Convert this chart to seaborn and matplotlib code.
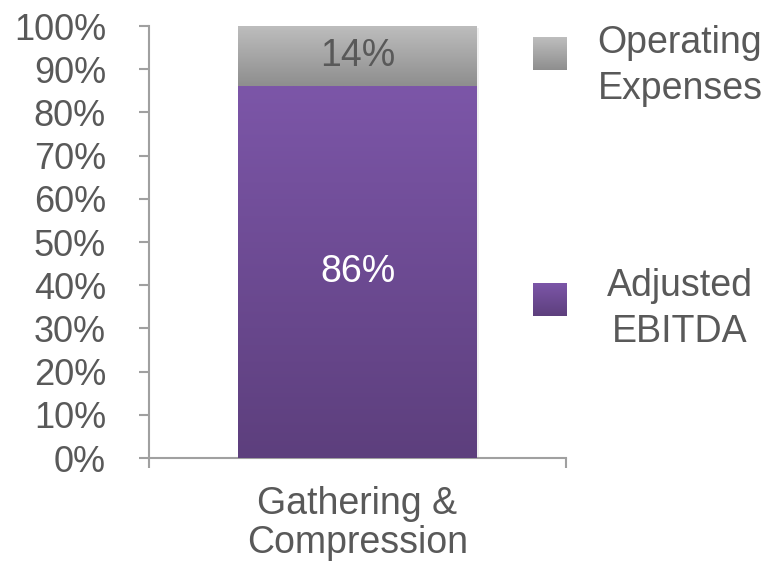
import numpy as np
import pandas as pd
import matplotlib
matplotlib.use("Agg")
import matplotlib.pyplot as plt
import seaborn as sns
from matplotlib.colors import LinearSegmentedColormap
from matplotlib.ticker import PercentFormatter

# Segment data (percent of total)
categories = ["Gathering &\nCompression"]
adjusted_ebitda = [86]
operating_expenses = [14]
series_names = ["Operating\nExpenses", "Adjusted\nEBITDA"]
y_ticks = list(range(0, 101, 10))

sns.set_theme(style="white")
plt.rcParams["font.family"] = ["Liberation Sans", "DejaVu Sans"]

TEXT = "#595959"
SPINE = "#A0A0A0"
purple_cmap = LinearSegmentedColormap.from_list("purple", ["#5D3F7D", "#7C56A8"])
gray_cmap = LinearSegmentedColormap.from_list("gray", ["#8E8E8E", "#BEBEBE"])

df = pd.DataFrame({
    "category": categories,
    "ebitda": adjusted_ebitda,
    "total": [a + b for a, b in zip(adjusted_ebitda, operating_expenses)],
})

fig = plt.figure(figsize=(7.67, 5.63), dpi=100)
ax = fig.add_axes([149 / 767, 105 / 563, 417 / 767, 432 / 563])

# Stacked bar: full total first (top segment), then the lower segment over it
sns.barplot(data=df, x="category", y="total", color="#A6A6A6", width=0.573,
            ax=ax, zorder=2, linewidth=0)
sns.barplot(data=df, x="category", y="ebitda", color="#6B4A93", width=0.573,
            ax=ax, zorder=3, linewidth=0)

patches = list(ax.patches)
grad = np.linspace(0, 1, 256).reshape(-1, 1)
n = len(categories)
for i, p in enumerate(patches):
    x0, y0, w, h = p.get_x(), p.get_y(), p.get_width(), p.get_height()
    cmap = gray_cmap if i < n else purple_cmap
    if i < n:
        # top segment only spans from the lower segment to the total
        y0 = adjusted_ebitda[i]
        h = h - adjusted_ebitda[i]
    p.set_facecolor("none")
    # soft shadow
    ax.add_patch(plt.Rectangle((x0 + 0.006, y0 - 0.5), w, h, facecolor="#000000",
                               alpha=0.06, zorder=1, linewidth=0))
    ax.imshow(grad, cmap=cmap, origin="lower", aspect="auto",
              extent=(x0, x0 + w, y0, y0 + h), zorder=p.get_zorder() + 0.5)

# Value labels in each segment
for i in range(n):
    ax.text(i, adjusted_ebitda[i] + operating_expenses[i] / 2, f"{operating_expenses[i]}%",
            ha="center", va="center", fontsize=27, color=TEXT, zorder=10)
    ax.text(i, adjusted_ebitda[i] / 2, f"{adjusted_ebitda[i]}%",
            ha="center", va="center", fontsize=27, color="white", zorder=10)

ax.set_xlim(-0.5, n - 0.5)
ax.set_ylim(0, 100)
ax.set_yticks(y_ticks)
ax.yaxis.set_major_formatter(PercentFormatter(decimals=0))
ax.set_xticks(range(n))
ax.set_xticklabels(categories)
ax.set_xticks([-0.5 + k for k in range(n + 1)], minor=True)
ax.set_xlabel("")
ax.set_ylabel("")

for s in ["top", "right"]:
    ax.spines[s].set_visible(False)
for s in ["left", "bottom"]:
    ax.spines[s].set_color(SPINE)
    ax.spines[s].set_linewidth(1.5)

ax.tick_params(axis="y", which="major", direction="out", length=7, width=1.5,
               color=SPINE, labelsize=26, labelcolor=TEXT, pad=24, left=True)
ax.tick_params(axis="x", which="major", length=0, labelsize=27, labelcolor=TEXT, pad=20)
ax.tick_params(axis="x", which="minor", direction="out", length=7, width=1.5,
               color=SPINE, bottom=True)
for lbl in ax.get_xticklabels():
    lbl.set_linespacing(1.1)

# Legend: gradient swatches with centered labels
legend_items = [
    (series_names[0], gray_cmap, 37, 70, 66),
    (series_names[1], purple_cmap, 283, 316, 309),
]
for label, cmap, top, bottom, text_y in legend_items:
    sw = fig.add_axes([533 / 767, 1 - bottom / 563, 34 / 767, (bottom - top) / 563])
    sw.imshow(grad, cmap=cmap, origin="lower", aspect="auto")
    sw.set_axis_off()
    fig.text(680 / 767, 1 - text_y / 563, label, ha="center", va="center",
             fontsize=27, color=TEXT, linespacing=1.35)

fig.savefig("out.png", dpi=100)
